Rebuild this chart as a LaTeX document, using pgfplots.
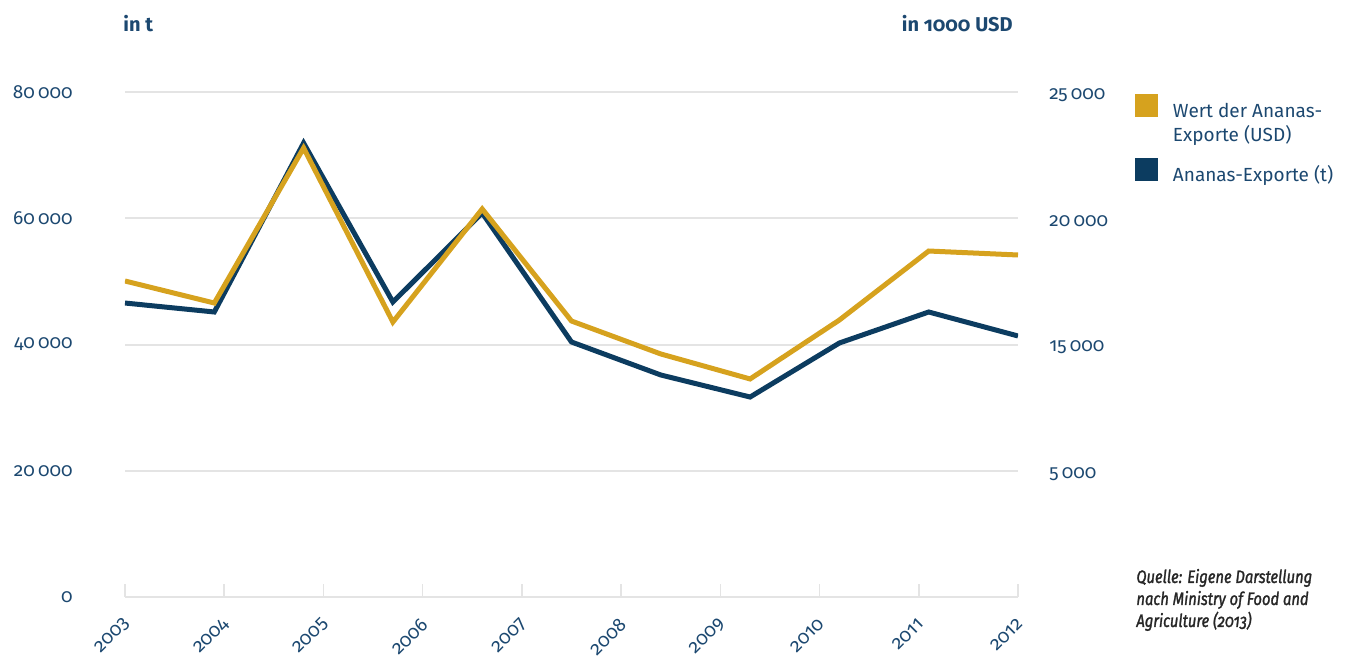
\documentclass[border=0pt]{standalone}
\usepackage{pgfplots}
\pgfplotsset{compat=1.18}
\usepackage{fontspec}
\setmainfont{Fira Sans}[Numbers=OldStyle]
\newfontfamily\quellefont{Fira Sans}[Numbers=OldStyle, FakeStretch=0.82, FakeBold=1.5]
\definecolor{goldc}{HTML}{D6A21E}
\definecolor{bluec}{HTML}{0C3C60}
\definecolor{textblue}{HTML}{1C4870}
\definecolor{gridc}{HTML}{E4E4E4}
\definecolor{quellec}{HTML}{262626}

\pgfplotstableread{
x y
0   46570
0.9 45150
1.8 71920
2.7 46730
3.6 60830
4.5 40400
5.4 35170
6.3 31680
7.2 40240
8.1 45150
9   41350
}\tonnen

\pgfplotstableread{
x y
0   50060
0.9 46570
1.8 71130
2.7 43560
3.6 61470
4.5 43720
5.4 38500
6.3 34540
7.2 43880
8.1 54810
9   54180
}\wert

\begin{document}
\begin{tikzpicture}
\path[use as bounding box] (0,0) rectangle (673.5pt,331pt);
\begin{axis}[
  at={(62.5pt,32.5pt)}, anchor=south west,
  scale only axis, width=446.5pt, height=252.5pt,
  xmin=0, xmax=9, ymin=0, ymax=80000,
  scaled y ticks=false,
  axis x line*=bottom, axis y line*=left,
  x axis line style={-, gridc, line width=1pt},
  y axis line style={draw=none},
  xtick={0,1,...,9},
  xticklabels={2003,2004,2005,2006,2007,2008,2009,2010,2011,2012},
  ytick={0,20000,40000,60000,80000},
  ymajorgrids, grid style={gridc, line width=1pt},
  xtick style={gridc, line width=0.8pt},
  ytick style={draw=none},
  tick align=inside, major tick length=6.5pt,
  /pgf/number format/assume math mode=true,
  /pgf/number format/1000 sep={\,},
  ticklabel style={font=\fontsize{9.5pt}{11pt}\selectfont, text=textblue},
  yticklabel style={anchor=east, inner sep=0pt, xshift=-26pt},
  xticklabel style={yshift=-12pt, xshift=1pt, rotate=45, anchor=east, inner sep=0pt},
  reverse legend,
  legend image code/.code={\fill[#1, draw=none] (0pt,0pt) rectangle (11.5pt,11.5pt); \path[draw=none, fill=none] (0pt,0pt) -- (19pt,0pt);},
  legend style={draw=none, fill=none, inner sep=0pt, outer sep=0pt,
    at={(1.131,0.996)}, anchor=north west, row sep=4.9pt,
    nodes={inner sep=0pt, text depth=, text=textblue, font=\fontsize{9.5pt}{12pt}\selectfont},
    cells={anchor=base west}},
]
\addplot[bluec, line width=2.5pt] table[x=x, y=y] {\tonnen};
\addlegendentry{\begin{tabular}[t]{@{}l@{}}Ananas-Exporte (t)\end{tabular}}
\addplot[goldc, line width=2.5pt] table[x=x, y=y] {\wert};
\addlegendentry{\begin{tabular}[t]{@{}l@{}}Wert der Ananas-\\Exporte (USD)\end{tabular}}
\end{axis}
\begin{axis}[
  at={(62.5pt,32.5pt)}, anchor=south west,
  scale only axis, width=446.5pt, height=252.5pt,
  xmin=0, xmax=9, ymin=0, ymax=80000,
  scaled y ticks=false,
  axis x line=none, axis y line*=right,
  y axis line style={draw=none},
  ytick={20000,40000,60000,80000},
  yticklabels={5\,000,15\,000,20\,000,25\,000},
  ytick style={draw=none}, major tick length=0pt,
  ticklabel style={font=\fontsize{9.5pt}{11pt}\selectfont, text=textblue},
  yticklabel style={anchor=west, inner sep=0pt, xshift=15.5pt, yshift=-1.5pt},
]
\end{axis}
\node[anchor=base west, inner sep=0pt, text=textblue, font=\bfseries\fontsize{10pt}{12pt}\selectfont] at (61.5pt,315pt) {in t};
\node[anchor=base east, inner sep=0pt, text=textblue, font=\bfseries\fontsize{10pt}{12pt}\selectfont] at (506.5pt,315pt) {in 1000 USD};
\node[anchor=base west, inner sep=0pt, text=quellec, font=\quellefont\itshape\fontsize{9pt}{11pt}\selectfont] at (568pt,39.5pt)
  {\begin{tabular}[t]{@{}l@{}}Quelle: Eigene Darstellung\\nach Ministry of Food and\\Agriculture (2013)\end{tabular}};
\end{tikzpicture}
\end{document}
